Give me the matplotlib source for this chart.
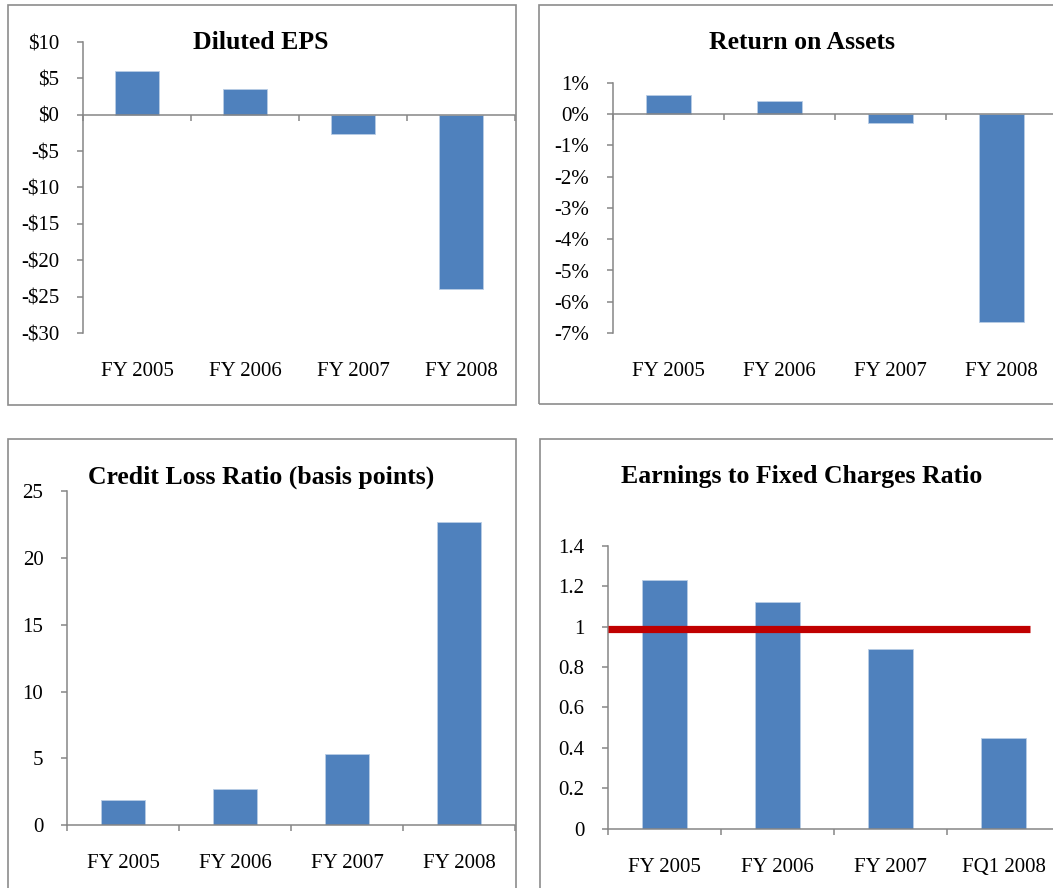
import matplotlib
matplotlib.use("Agg")
import matplotlib.pyplot as plt
from matplotlib.patches import Rectangle
from matplotlib.ticker import FuncFormatter, FixedLocator

plt.rcParams['font.family'] = ['Liberation Serif', 'DejaVu Serif']

# data
years = ["FY 2005", "FY 2006", "FY 2007", "FY 2008"]
eps = [6.0, 3.6, -2.6, -24.0]
roa = [0.63, 0.42, -0.29, -6.66]
credit_loss = [1.9, 2.7, 5.3, 22.7]
ratio_labels = ["FY 2005", "FY 2006", "FY 2007", "FQ1 2008"]
fixed_ratio = [1.23, 1.12, 0.89, 0.45]
ratio_threshold = 0.99

W, H = 1053, 888
BAR = '#4F81BD'
AXC = '#868686'
BOXC = '#8C8C8C'

fig = plt.figure(figsize=(W / 100, H / 100), dpi=100)


def px_axes(left, top, right, bottom):
    # pixel box -> figure fraction
    return fig.add_axes([left / W, (H - bottom) / H, (right - left) / W, (bottom - top) / H])


def panel_box(left, top, right, bottom):
    fig.patches.append(Rectangle((left / W, (H - bottom) / H), (right - left) / W, (bottom - top) / H,
                                 transform=fig.transFigure, fill=False, edgecolor=BOXC, linewidth=1.2))


def style(ax, labels, values, ylim, yticks, fmt):
    x = range(len(labels))
    ax.bar(x, values, width=0.4, color=BAR, edgecolor='#B9CDE5', linewidth=0.6, zorder=2)
    ax.set_xlim(-0.5, len(labels) - 0.5)
    ax.set_ylim(*ylim)
    for s in ['top', 'right']:
        ax.spines[s].set_visible(False)
    ax.spines['bottom'].set_position(('data', 0))
    for s in ['left', 'bottom']:
        ax.spines[s].set_color(AXC)
        ax.spines[s].set_linewidth(1.1)
    ax.spines['bottom'].set_zorder(3)
    ax.xaxis.set_major_locator(FixedLocator([i - 0.5 for i in range(len(labels) + 1)]))
    ax.tick_params(axis='x', length=4, width=1.1, color=AXC, labelbottom=False, direction='out')
    ax.yaxis.set_major_locator(FixedLocator(yticks))
    ax.yaxis.set_major_formatter(FuncFormatter(fmt))
    ax.tick_params(axis='y', length=4, width=1.1, color=AXC, pad=13, labelsize=15)
    ax.patch.set_alpha(0)
    for i, lab in enumerate(labels):
        ax.annotate(lab, xy=(i, 0), xycoords=('data', 'axes fraction'), xytext=(0, -31),
                    textcoords='offset points', ha='center', va='baseline', fontsize=15,
                    annotation_clip=False)


def dollars(v, pos):
    v = int(round(v))
    return f"-${-v}" if v < 0 else f"${v}"


# panel frames
panel_box(8, 5, 516, 405)
panel_box(539, 5, 1080, 404)
panel_box(8, 439, 516, 910)
panel_box(540, 439, 1080, 910)

ax1 = px_axes(83, 42, 515, 333)
style(ax1, years, eps, (-30, 10), range(-30, 11, 5), dollars)

ax2 = px_axes(613, 83, 1057, 333)
style(ax2, years, roa, (-7, 1), range(-7, 2), lambda v, p: f"{int(round(v))}%")

ax3 = px_axes(67, 491, 515, 825.3)
style(ax3, years, credit_loss, (0, 25), range(0, 26, 5), lambda v, p: f"{int(round(v))}")

ax4 = px_axes(608, 545.7, 1060, 828.7)
style(ax4, ratio_labels, fixed_ratio, (0, 1.4), [0, 0.2, 0.4, 0.6, 0.8, 1.0, 1.2, 1.4],
      lambda v, p: f"{v:g}")
ax4.axhline(ratio_threshold, xmin=0, xmax=(1030 - 608) / 452, color='#C00000', linewidth=5.2,
            solid_capstyle='butt', zorder=4)

titles = [("Diluted EPS", 261, 49.3), ("Return on Assets", 802, 49.3),
          ("Credit Loss Ratio (basis points)", 261, 483.3),
          ("Earnings to Fixed Charges Ratio", 802, 483.3)]
for t, x, y in titles:
    fig.text(x / W, (H - y) / H, t, ha='center', va='baseline', fontsize=18.5, fontweight='bold')

fig.savefig("out.png", dpi=100)
